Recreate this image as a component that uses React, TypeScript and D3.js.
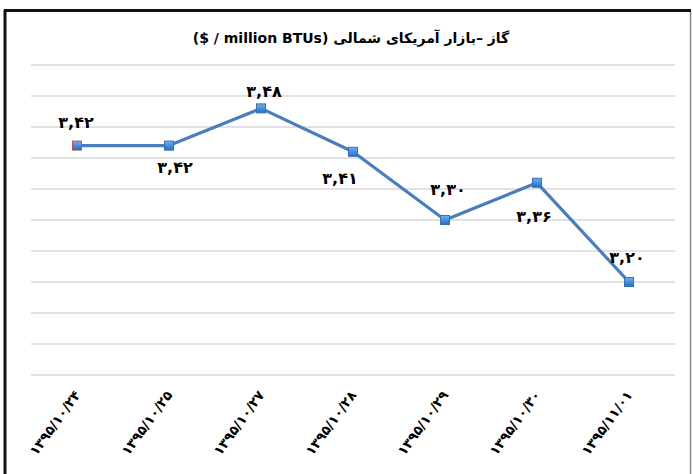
import React, { useEffect, useRef } from "react";
import * as d3 from "d3";

const WIDTH = 693;
const HEIGHT = 474;

// LRM keeps the unit part "($ / million BTUs)" in its own order
const TITLE = "گاز –بازار آمریکای شمالی (\u200E$ / million BTUs)";

const dates = [
  "۱۳۹۵/۱۰/۲۴",
  "۱۳۹۵/۱۰/۲۵",
  "۱۳۹۵/۱۰/۲۷",
  "۱۳۹۵/۱۰/۲۸",
  "۱۳۹۵/۱۰/۲۹",
  "۱۳۹۵/۱۰/۳۰",
  "۱۳۹۵/۱۱/۰۱",
];

const prices = [3.42, 3.42, 3.48, 3.41, 3.3, 3.36, 3.2];

const gridTicks = [3.05, 3.1, 3.15, 3.2, 3.25, 3.3, 3.35, 3.4, 3.45, 3.5, 3.55];

// where each data label sits relative to its marker (layout only)
const labelDx = [-1, 6, 3, -13, 3, -3, -2];
const labelDy = [-18, 27, -11, 32, -25, 39, -19];

const toPersian = (s: string) =>
  s.replace(/[0-9]/g, (d) => "۰۱۲۳۴۵۶۷۸۹"[+d]).replace(".", ",");

const App = () => {
  const svgRef = useRef<SVGSVGElement>(null);

  useEffect(() => {
    const svg = d3.select(svgRef.current);
    svg.selectAll("*").remove();

    const plot = { left: 31, right: 675, top: 65, bottom: 375 };

    const x = d3
      .scaleBand()
      .domain(dates)
      .range([plot.left, plot.right]);

    const y = d3.scaleLinear().domain([3.05, 3.55]).range([plot.bottom, plot.top]);

    const cx = (d: string) => (x(d) as number) + x.bandwidth() / 2;

    // gradient for the square markers
    const grad = svg.append("defs")
      .append("linearGradient")
      .attr("id", "mk")
      .attr("x1", 0).attr("y1", 0).attr("x2", 0).attr("y2", 1);
    grad.append("stop").attr("offset", "0%").attr("stop-color", "#6fb1f0");
    grad.append("stop").attr("offset", "100%").attr("stop-color", "#1f6fc8");

    // frame
    svg.append("rect").attr("width", WIDTH).attr("height", HEIGHT).attr("fill", "#fff");
    svg.append("line")
      .attr("x1", 5).attr("y1", 10).attr("x2", 5).attr("y2", HEIGHT)
      .attr("stroke", "#111").attr("stroke-width", 3);
    svg.append("line")
      .attr("x1", 4).attr("y1", 10.5).attr("x2", 691).attr("y2", 10.5)
      .attr("stroke", "#111").attr("stroke-width", 3);
    svg.append("line")
      .attr("x1", 690.5).attr("y1", 12).attr("x2", 690.5).attr("y2", HEIGHT)
      .attr("stroke", "#888").attr("stroke-width", 1.5);

    // title
    svg.append("text")
      .attr("x", 351)
      .attr("y", 43)
      .attr("text-anchor", "middle")
      .attr("direction", "rtl")
      .style("font-family", "'DejaVu Sans', sans-serif")
      .style("font-weight", "bold")
      .style("font-size", "14px")
      .text(TITLE);

    // gridlines
    svg.append("g")
      .selectAll("line")
      .data(gridTicks)
      .join("line")
      .attr("x1", plot.left)
      .attr("x2", plot.right)
      .attr("y1", (d) => y(d))
      .attr("y2", (d) => y(d))
      .attr("stroke", "#d9d9d9")
      .attr("stroke-width", 1.5);

    // line
    const line = d3
      .line<number>()
      .x((_, i) => cx(dates[i]))
      .y((d) => y(d));

    svg.append("path")
      .datum(prices)
      .attr("d", line)
      .attr("fill", "none")
      .attr("stroke", "#4a7ebb")
      .attr("stroke-width", 3.2)
      .attr("stroke-linejoin", "round");

    // markers
    const ms = 9;
    svg.append("g")
      .selectAll("rect")
      .data(prices)
      .join("rect")
      .attr("x", (_, i) => cx(dates[i]) - ms / 2)
      .attr("y", (d) => y(d) - ms / 2)
      .attr("width", ms)
      .attr("height", ms)
      .attr("fill", "url(#mk)")
      .attr("stroke", (_, i) => (i === 0 ? "#c0504d" : "#3a6fb0"))
      .attr("stroke-width", 1);

    // data labels
    svg.append("g")
      .selectAll("text")
      .data(prices)
      .join("text")
      .attr("x", (_, i) => cx(dates[i]) + labelDx[i])
      .attr("y", (d, i) => y(d) + labelDy[i])
      .attr("text-anchor", "middle")
      .style("font-family", "'DejaVu Sans', sans-serif")
      .style("font-weight", "bold")
      .style("font-size", "16px")
      .text((d) => toPersian(d.toFixed(2)));

    // category labels
    svg.append("g")
      .selectAll("text")
      .data(dates)
      .join("text")
      .attr("transform", (d) => `translate(${cx(d) + 4},${plot.bottom + 20}) rotate(-54)`)
      .attr("text-anchor", "end")
      .style("font-family", "'DejaVu Sans', sans-serif")
      .style("font-weight", "bold")
      .style("font-size", "13.5px")
      .text((d) => d);
  }, []);

  return (
    <svg
      ref={svgRef}
      width={WIDTH}
      height={HEIGHT}
      style={{ position: "absolute", left: 0, top: 0 }}
    />
  );
};

export default App;
